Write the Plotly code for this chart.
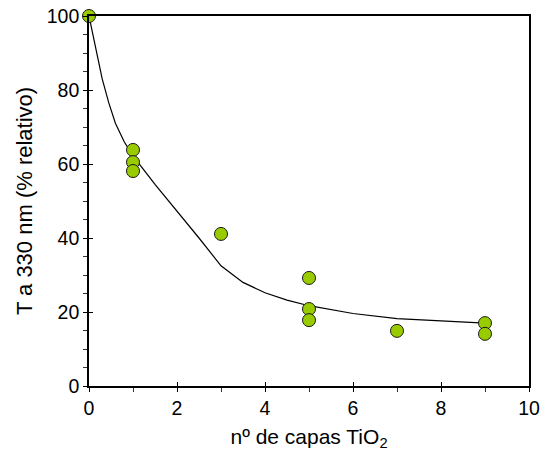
import plotly.graph_objects as go

# measured points
layers = [0, 1, 1, 1, 3, 5, 5, 5, 7, 9, 9]
trans = [100, 63.8, 60.5, 58.1, 41.1, 29.2, 20.8, 17.8, 14.9, 17.0, 14.1]

# fitted curve
fit_x = [0, 0.15, 0.3, 0.45, 0.6, 0.8, 1, 1.5, 2, 2.5, 3, 3.5, 4, 4.5, 5, 6, 7, 8, 9]
fit_y = [100, 91, 83, 76.5, 71, 66, 62.2, 54.5, 47.3, 40, 32.5, 28, 25.2, 23.2, 21.7, 19.6, 18.2, 17.5, 17.0]

FONT = "Arial, 'Liberation Sans', sans-serif"

fig = go.Figure()
fig.add_trace(go.Scatter(x=fit_x, y=fit_y, mode="lines", line=dict(color="black", width=1.2),
                         showlegend=False, hoverinfo="skip"))
fig.add_trace(go.Scatter(x=layers, y=trans, mode="markers",
                         marker=dict(size=13, color="#99cc00", line=dict(color="#1a1a1a", width=1)),
                         showlegend=False, cliponaxis=False))
# dummy trace for inside-tick overlay axes
fig.add_trace(go.Scatter(x=[None], y=[None], xaxis="x2", yaxis="y2", showlegend=False))

fig.update_layout(
    width=547, height=456,
    margin=dict(l=89, r=18, t=16, b=70),
    paper_bgcolor="white", plot_bgcolor="white",
    font=dict(family=FONT, size=19, color="black"),
    xaxis=dict(range=[0, 10], dtick=2, tick0=0, showgrid=False, zeroline=False, automargin=False,
               showline=True, linecolor="black", linewidth=1.6, mirror=True,
               ticks="outside", ticklen=4, tickwidth=1.3, tickcolor="black",
               minor=dict(dtick=1, ticks="outside", ticklen=4, tickwidth=1, tickcolor="#333"),
               title=dict(text="nº de capas TiO<sub>2</sub>", font=dict(size=21), standoff=11),
               tickfont=dict(size=19.5)),
    yaxis=dict(range=[0, 100], dtick=20, tick0=0, showgrid=False, zeroline=False, automargin=False,
               showline=True, linecolor="black", linewidth=1.6, mirror=True,
               ticks="outside", ticklen=4, tickwidth=1.3, tickcolor="black",
               minor=dict(dtick=5, ticks="outside", ticklen=4, tickwidth=1, tickcolor="#333"),
               title=dict(text="T a 330 nm (% relativo)", font=dict(size=22), standoff=8),
               tickfont=dict(size=19.5)),
    xaxis2=dict(overlaying="x", matches="x", range=[0, 10], dtick=2, tick0=0, showgrid=False,
                zeroline=False, showline=False, ticks="inside", ticklen=4, tickwidth=1.3,
                tickcolor="black", showticklabels=False, side="bottom", anchor="y2", automargin=False),
    yaxis2=dict(overlaying="y", matches="y", range=[0, 100], dtick=20, tick0=0, showgrid=False,
                zeroline=False, showline=False, ticks="inside", ticklen=4, tickwidth=1.3,
                tickcolor="black", showticklabels=False, side="left", anchor="x2", automargin=False),
)

fig.write_html("out.html")
